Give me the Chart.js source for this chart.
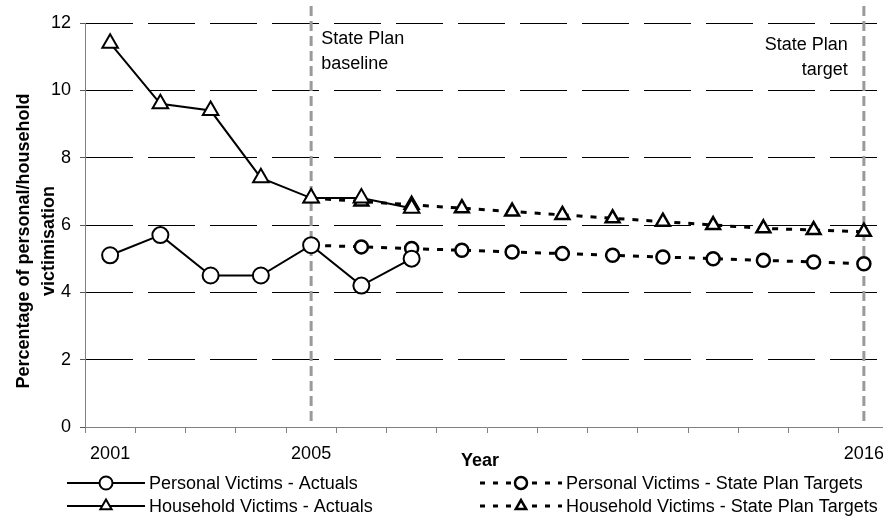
<!DOCTYPE html>
<html>
<head>
<meta charset="utf-8">
<script src="https://cdn.jsdelivr.net/npm/chart.js@4.4.1/dist/chart.umd.min.js"></script>
<style>
  html, body { margin: 0; padding: 0; background: #fff; overflow: hidden; }
  #wrap { width: 900px; height: 517px; }
</style>
</head>
<body>
<div id="wrap"><canvas id="chart" width="900" height="517"></canvas></div>
<script>
const years = ['2001', '2002', '2003', '2004', '2005', '2006', '2007', '2008',
               '2009', '2010', '2011', '2012', '2013', '2014', '2015', '2016'];
const shownYears = ['2001', '2005', '2016'];

const personalActuals = [5.1, 5.7, 4.5, 4.5, 5.4, 4.2, 5.0, null, null, null, null, null, null, null, null, null];
const householdActuals = [11.4, 9.6, 9.4, 7.4, 6.8, 6.8, 6.5, null, null, null, null, null, null, null, null, null];
const personalTargets = [null, null, null, null, 5.4, 5.35, 5.3, 5.25, 5.2, 5.15, 5.1, 5.05, 5.0, 4.95, 4.9, 4.85];
const householdTargets = [null, null, null, null, 6.8, 6.7, 6.6, 6.5, 6.4, 6.3, 6.2, 6.1, 6.0, 5.9, 5.85, 5.8];

const yMin = 0, yMax = 12, yStep = 2;

// vertical reference lines and their notes
const planYears = ['2005', '2016'];
const planNotes = [['State Plan', 'baseline'], ['State Plan', 'target']];

const seriesNames = [
    'Personal Victims - Actuals',
    'Household Victims - Actuals',
    'Personal Victims - State Plan Targets',
    'Household Victims - State Plan Targets'
];

const FONT = '"Liberation Sans", Arial, sans-serif';
Chart.defaults.font.family = FONT;
Chart.defaults.font.size = 18;
Chart.defaults.color = '#000';

function drawMarker(ctx, style, x, y, r, lw) {
    ctx.save();
    ctx.lineWidth = lw;
    ctx.strokeStyle = '#000';
    ctx.fillStyle = '#fff';
    ctx.setLineDash([]);
    ctx.beginPath();
    if (style === 'circle') {
        ctx.arc(x, y, r, 0, Math.PI * 2);
    } else {
        ctx.moveTo(x, y - r);
        ctx.lineTo(x + r * 0.866, y + r * 0.5);
        ctx.lineTo(x - r * 0.866, y + r * 0.5);
        ctx.closePath();
    }
    ctx.fill();
    ctx.stroke();
    ctx.restore();
}

const planLines = {
    id: 'planLines',
    beforeDatasetsDraw(chart) {
        const {ctx, scales: {x}, chartArea} = chart;
        ctx.save();
        planYears.forEach((yr, i) => {
            const px = x.getPixelForValue(years.indexOf(yr));
            ctx.strokeStyle = '#9a9a9a';
            ctx.lineWidth = 3;
            ctx.setLineDash([10, 5]);
            ctx.beginPath();
            ctx.moveTo(px, 6);
            ctx.lineTo(px, chartArea.bottom - 3);
            ctx.stroke();

            ctx.fillStyle = '#000';
            ctx.font = '18px ' + FONT;
            ctx.textBaseline = 'middle';
            const notes = planNotes[i];
            if (i === 0) {
                ctx.textAlign = 'left';
                ctx.fillText(notes[0], px + 10, 39);
                ctx.fillText(notes[1], px + 10, 64);
            } else {
                ctx.textAlign = 'right';
                ctx.fillText(notes[0], px - 16, 45);
                ctx.fillText(notes[1], px - 16, 70);
            }
        });
        ctx.restore();
    }
};

const extras = {
    id: 'extras',
    afterDraw(chart) {
        const {ctx, chartArea} = chart;
        ctx.save();
        // y axis title, two lines
        ctx.font = 'bold 18px ' + FONT;
        ctx.fillStyle = '#000';
        ctx.textAlign = 'center';
        ctx.textBaseline = 'alphabetic';
        const cy = 241;
        ctx.save();
        ctx.translate(29, cy);
        ctx.rotate(-Math.PI / 2);
        ctx.fillText('Percentage of personal/household', 0, 0);
        ctx.restore();
        ctx.save();
        ctx.translate(54, cy);
        ctx.rotate(-Math.PI / 2);
        ctx.fillText('victimisation', 0, 0);
        ctx.restore();

        // x axis title
        ctx.textBaseline = 'middle';
        ctx.fillText('Year', 480, 461);

        // legend, two columns
        const cols = [67, 480];
        const rows = [483, 506];
        const items = [
            {col: 0, row: 0, style: 'circle', dashed: false},
            {col: 0, row: 1, style: 'triangle', dashed: false},
            {col: 1, row: 0, style: 'circle', dashed: true},
            {col: 1, row: 1, style: 'triangle', dashed: true}
        ];
        ctx.font = '18px ' + FONT;
        ctx.textAlign = 'left';
        items.forEach((it, i) => {
            const x0 = cols[it.col], y0 = rows[it.row];
            const len = it.dashed ? 82 : 78;
            ctx.save();
            ctx.strokeStyle = '#000';
            ctx.lineWidth = it.dashed ? 3 : 2;
            ctx.setLineDash(it.dashed ? [5, 8] : []);
            ctx.beginPath();
            ctx.moveTo(x0, y0);
            ctx.lineTo(x0 + len, y0);
            ctx.stroke();
            ctx.restore();
            drawMarker(ctx, it.style, x0 + len / 2, y0, it.dashed ? 6 : 6.5, it.dashed ? 2.5 : 2);
            ctx.fillStyle = '#000';
            ctx.fillText(seriesNames[i], x0 + len + 4, y0 + 1);
        });
        ctx.restore();
    }
};

const ctx = document.getElementById('chart').getContext('2d');
new Chart(ctx, {
    type: 'line',
    data: {
        labels: years,
        datasets: [
            {
                label: seriesNames[0],
                data: personalActuals,
                borderColor: '#000',
                borderWidth: 2,
                pointStyle: 'circle',
                pointRadius: 8,
                pointBorderWidth: 2,
                pointBackgroundColor: '#fff',
                pointBorderColor: '#000',
                tension: 0
            },
            {
                label: seriesNames[1],
                data: householdActuals,
                borderColor: '#000',
                borderWidth: 2,
                pointStyle: 'triangle',
                pointRadius: 9,
                pointBorderWidth: 2,
                pointBackgroundColor: '#fff',
                pointBorderColor: '#000',
                tension: 0
            },
            {
                label: seriesNames[2],
                data: personalTargets,
                borderColor: '#000',
                borderWidth: 3,
                borderDash: [6, 8],
                pointStyle: 'circle',
                pointRadius: 6.5,
                pointBorderWidth: 2.5,
                pointBackgroundColor: '#fff',
                pointBorderColor: '#000',
                tension: 0
            },
            {
                label: seriesNames[3],
                data: householdTargets,
                borderColor: '#000',
                borderWidth: 3,
                borderDash: [6, 8],
                pointStyle: 'triangle',
                pointRadius: 8,
                pointBorderWidth: 2.5,
                pointBackgroundColor: '#fff',
                pointBorderColor: '#000',
                tension: 0
            }
        ]
    },
    options: {
        responsive: false,
        animation: false,
        layout: { padding: { top: 23, right: 9, bottom: 0, left: 0 } },
        plugins: {
            legend: { display: false },
            tooltip: { enabled: false }
        },
        scales: {
            x: {
                offset: true,
                afterFit: (s) => { s.height = 90; },
                grid: {
                    offset: true,
                    drawOnChartArea: false,
                    tickLength: 6,
                    tickColor: '#808080'
                },
                border: { color: '#808080', width: 1 },
                ticks: {
                    autoSkip: false,
                    maxRotation: 0,
                    padding: 10,
                    callback: function (value) {
                        const lab = this.getLabelForValue(value);
                        return shownYears.includes(lab) ? lab : '';
                    }
                }
            },
            y: {
                min: yMin,
                max: yMax,
                afterFit: (s) => { s.width = 85; },
                ticks: { stepSize: yStep, padding: 9 },
                grid: {
                    color: (c) => (c.tick && c.tick.value === 0 ? 'rgba(0,0,0,0)' : '#000'),
                    lineWidth: 1,
                    tickLength: 5,
                    tickColor: '#555'
                },
                border: { color: '#808080', width: 1, dash: [47, 15] }
            }
        }
    },
    plugins: [planLines, extras]
});
</script>
</body>
</html>
